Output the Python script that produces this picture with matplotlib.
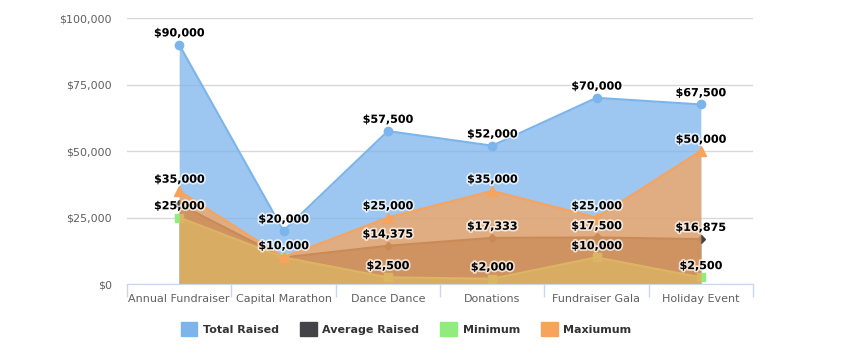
import matplotlib
matplotlib.use("Agg")
import matplotlib.pyplot as plt
import matplotlib.patheffects as pe
from matplotlib.patches import Patch
import numpy as np

categories = ["Annual Fundraiser", "Capital Marathon", "Dance Dance", "Donations",
              "Fundraiser Gala", "Holiday Event"]
total_raised = [90000, 20000, 57500, 52000, 70000, 67500]
average_raised = [30000, 10000, 14375, 17333, 17500, 16875]
minimum = [25000, 10000, 2500, 2000, 10000, 2500]
maximum = [35000, 10000, 25000, 35000, 25000, 50000]
y_ticks = [0, 25000, 50000, 75000, 100000]

series = [
    ("Total Raised", total_raised, "#7cb5ec", "o", 6),
    ("Average Raised", average_raised, "#434348", "D", 4.5),
    ("Minimum", minimum, "#90ed7d", "s", 5.5),
    ("Maxiumum", maximum, "#f7a35c", "^", 6.5),
]
# labels hidden by overlap in the original (series index, point index)
hidden = {(1, 0), (2, 1), (3, 1)}

fig = plt.figure(figsize=(8.66, 3.61), dpi=100)
ax = fig.add_axes([127/866, 1-284/361, (753-127)/866, (284-18)/361])
x = np.arange(len(categories))

for si, (name, vals, col, mk, ms) in enumerate(series):
    z = 2 + si
    ax.fill_between(x, 0, vals, color=col, alpha=0.75, lw=0, zorder=z)
    ax.plot(x, vals, color=col, lw=1.5, zorder=z + 0.1, solid_joinstyle="round")
    ax.plot(x, vals, ls="none", marker=mk, ms=ms, color=col, mec=col, zorder=z + 0.2)

for si, (name, vals, col, mk, ms) in enumerate(series):
    for i, v in enumerate(vals):
        if (si, i) in hidden:
            continue
        ax.annotate(f"${v:,.0f}", (x[i], v), xytext=(0, 4.5), textcoords="offset points",
                    ha="center", va="bottom", fontsize=8, fontweight="bold", color="#000000",
                    zorder=20,
                    path_effects=[pe.withStroke(linewidth=2.5, foreground="white", alpha=0.7)])

ax.set_xlim(-0.5, len(categories) - 0.5)
ax.set_ylim(0, 100000)
ax.set_yticks(y_ticks)
ax.set_yticklabels([f"${t:,.0f}" for t in y_ticks])
ax.set_xticks(x)
ax.set_xticklabels(categories)
ax.set_xticks(np.arange(-0.5, len(categories)), minor=True)
ax.tick_params(axis="x", which="major", length=0, pad=7, labelsize=8, labelcolor="#606060")
ax.tick_params(axis="x", which="minor", length=9, color="#ccd6eb", width=1)
ax.tick_params(axis="y", length=0, pad=11, labelsize=8, labelcolor="#606060")
ax.grid(axis="y", color="#d8d8d8", lw=1, zorder=0)
ax.set_axisbelow(True)
for s in ["top", "right", "left"]:
    ax.spines[s].set_visible(False)
ax.spines["bottom"].set_color("#ccd6eb")
ax.spines["bottom"].set_zorder(30)

handles = [Patch(facecolor=c, edgecolor=c, label=n) for n, _, c, _, _ in series]
leg = fig.legend(handles=handles, loc="center", bbox_to_anchor=(406/866, 1-329/361),
                 ncol=4, frameon=False, handlelength=1.5, handleheight=1.5,
                 columnspacing=1.9, handletextpad=0.5,
                 prop={"size": 8, "weight": "bold"})
for t in leg.get_texts():
    t.set_color("#333333")

fig.savefig("out.png", dpi=100)
